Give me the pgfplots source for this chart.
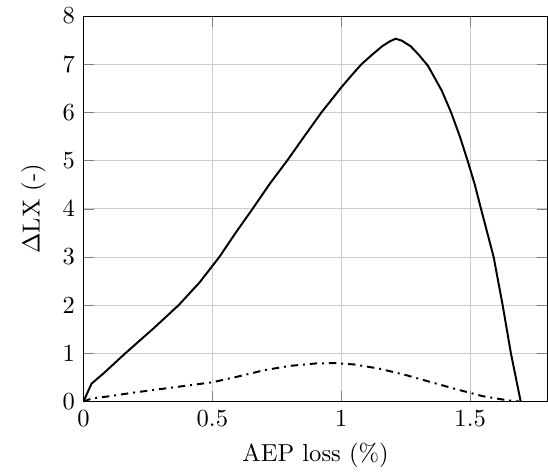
\documentclass[border=0pt]{standalone}
\usepackage{pgfplots}
\pgfplotsset{compat=1.18}
\begin{document}
\begin{tikzpicture}
\begin{axis}[
  scale only axis,
  width=189pt, height=157pt,
  xmin=0, xmax=1.8, ymin=0, ymax=8,
  xtick={0,0.5,1,1.5},
  ytick={0,1,2,3,4,5,6,7,8},
  grid=major,
  major grid style={gray!40},
  xlabel={AEP loss (\%)},
  ylabel={$\Delta$LX (-)},
]
\addplot[black, thick] coordinates {
(0,0) (0.031,0.37) (0.079,0.59) (0.162,1.0) (0.272,1.52) (0.369,2.0) (0.45,2.47)
(0.527,3.0) (0.59,3.5) (0.656,4.0) (0.72,4.5) (0.79,5.0) (0.856,5.5) (0.923,6.0)
(1.0,6.52) (1.04,6.77) (1.078,7.0) (1.12,7.2) (1.16,7.38) (1.19,7.48) (1.211,7.53)
(1.235,7.49) (1.27,7.37) (1.3,7.2) (1.336,6.97) (1.36,6.74) (1.39,6.45) (1.426,6.0)
(1.46,5.5) (1.49,5.0) (1.518,4.5) (1.542,4.0) (1.591,3.0) (1.626,2.0) (1.658,1.0) (1.696,0)
};
\addplot[black, thick, dash dot] coordinates {
(0,0) (0.03,0.06) (0.1,0.11) (0.2,0.19) (0.3,0.26) (0.4,0.33) (0.5,0.40)
(0.6,0.52) (0.7,0.65) (0.8,0.74) (0.9,0.79) (0.97,0.80) (1.05,0.77) (1.15,0.68)
(1.25,0.55) (1.35,0.40) (1.45,0.25) (1.55,0.11) (1.64,0.03) (1.69,0)
};
\end{axis}
\path (current axis.south west) ++(-34pt,0);
\end{tikzpicture}
\end{document}
